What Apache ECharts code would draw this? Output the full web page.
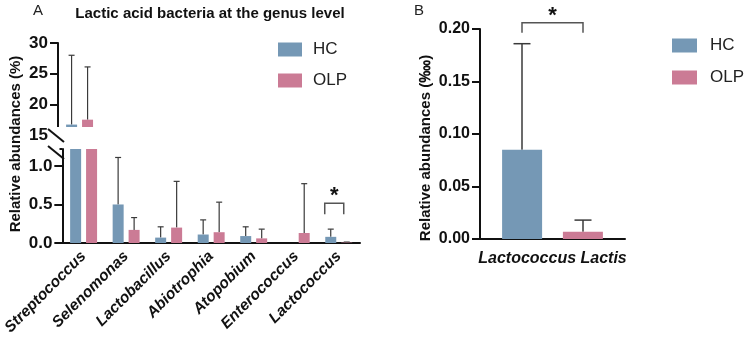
<!DOCTYPE html>
<html><head><meta charset="utf-8">
<script src="https://cdn.jsdelivr.net/npm/echarts@6/dist/echarts.min.js"></script>
<style>html,body{margin:0;padding:0;background:#fff}#c{width:744px;height:340px}</style>
</head><body><div id="c"></div>
<script>
// ---- Panel A data ----
const categories = ['Streptococcus','Selenomonas','Lactobacillus','Abiotrophia','Atopobium','Enterococcus','Lactococcus'];
const hcMean   = [16.7, 0.50, 0.07, 0.11, 0.09, 0, 0.08];
const hcUpper  = [28.0, 1.11, 0.21, 0.30, 0.21, 0, 0.18];
const olpMean  = [17.5, 0.17, 0.20, 0.14, 0.06, 0.13, 0.005];
const olpUpper = [26.1, 0.33, 0.80, 0.53, 0.18, 0.77, 0.012];
const upperTicks = [15, 20, 25, 30];
const lowerTicks = [0, 0.5, 1.0];
const sigA = [['Lactococcus', 0.515, '*']];
// ---- Panel B data ----
const bCategories = ['Lactococcus Lactis'];
const bHcMean   = [0.085];
const bHcUpper  = [0.186];
const bOlpMean  = [0.007];
const bOlpUpper = [0.018];
const bTicks = [0, 0.05, 0.10, 0.15, 0.20];
const sigB = [['Lactococcus Lactis', 0.206, '*']];

const HC = '#7598B5', OLP = '#CB7B95', AX = '#111', ERR = '#3a3a3a';
const FONT = 'Liberation Sans';

function errData(cats, mean, up){ return cats.map((c,i)=>[i, mean[i], up[i]]); }
function errRender(off, cap, lw){
  return function(params, api){
    const m = api.value(1), u = api.value(2);
    if (!(u > m)) return null;
    const p0 = api.coord([api.value(0), m]);
    const p1 = api.coord([api.value(0), u]);
    const x = p0[0] + off;
    return {type:'group', children:[
      {type:'line', shape:{x1:x,y1:p0[1],x2:x,y2:p1[1]}, style:{stroke:ERR,lineWidth:lw}},
      {type:'line', shape:{x1:x-cap/2,y1:p1[1],x2:x+cap/2,y2:p1[1]}, style:{stroke:ERR,lineWidth:lw}}
    ]};
  };
}
function sigRender(offL, offR, leg){
  return function(params, api){
    const p = api.coord([api.value(0), api.value(1)]);
    const xl = p[0]+offL, xr = p[0]+offR, y = p[1];
    return {type:'group', children:[
      {type:'polyline', shape:{points:[[xl,y+leg],[xl,y],[xr,y],[xr,y+leg]]}, style:{stroke:'#555',lineWidth:1.5,fill:null}},
      {type:'text', x:(xl+xr)/2, y:y+4, style:{text:api.value(2), font:'bold 22px "'+FONT+'"', fill:'#111', align:'center', verticalAlign:'bottom'}}
    ]};
  };
}
const sigAData = sigA.map(s=>[categories.indexOf(s[0]), s[1], s[2]]);
const sigBData = sigB.map(s=>[bCategories.indexOf(s[0]), s[1], s[2]]);

const yLabel = (dec, fs)=>({color:'#111', fontFamily:FONT, fontWeight:'bold', fontSize:fs, margin:10, formatter:v=>v.toFixed(dec)});
const mkY = (extra)=>Object.assign({type:'value', splitLine:{show:false},
  axisLine:{show:true, lineStyle:{color:AX, width:2}},
  axisTick:{show:true, inside:false, length:8, lineStyle:{color:AX, width:2}}}, extra);

const chart = echarts.init(document.getElementById('c'), null, {renderer:'canvas'});
const option = {
  animation:false,
  backgroundColor:'#fff',
  grid:[
    {left:58, top:43, width:302, height:92},
    {left:58, top:149, width:302, height:94},
    {left:480, top:29, width:145, height:210}
  ],
  xAxis:[
    {gridIndex:0, type:'category', data:categories, show:false},
    {gridIndex:1, type:'category', data:categories,
      axisLine:{lineStyle:{color:AX,width:2}}, axisTick:{alignWithLabel:true,length:6,lineStyle:{color:AX,width:2}},
      axisLabel:{rotate:45, interval:0, margin:11, color:'#111', fontFamily:FONT, fontWeight:'bold', fontStyle:'italic', fontSize:15.5}},
    {gridIndex:2, type:'category', data:bCategories,
      axisLine:{lineStyle:{color:AX,width:2}}, axisTick:{alignWithLabel:true,length:6,lineStyle:{color:AX,width:2}},
      axisLabel:{margin:12, color:'#111', fontFamily:FONT, fontWeight:'bold', fontStyle:'italic', fontSize:16}}
  ],
  yAxis:[
    mkY({gridIndex:0, min:upperTicks[0], max:upperTicks[upperTicks.length-1], interval:5, axisLabel:yLabel(0,17)}),
    mkY({gridIndex:1, min:0, max:1.22, interval:0.5, axisLabel:Object.assign(yLabel(1,17), {customValues:lowerTicks})}),
    mkY({gridIndex:2, min:bTicks[0], max:bTicks[bTicks.length-1], interval:0.05, axisLabel:yLabel(2,16)})
  ],
  legend:[
    {data:['HC','OLP'], orient:'vertical', left:278, top:41, padding:0, icon:'rect', itemWidth:24, itemHeight:14, itemGap:14,
      textStyle:{fontFamily:FONT, fontSize:17, color:'#222', padding:[0,0,0,6]}},
    {data:['HC','OLP'], orient:'vertical', left:672, top:37, padding:0, icon:'rect', itemWidth:25, itemHeight:14, itemGap:15,
      textStyle:{fontFamily:FONT, fontSize:17, color:'#222', padding:[0,0,0,8]}}
  ],
  series:[
    {name:'HC', type:'bar', xAxisIndex:0, yAxisIndex:0, data:hcMean.map(v=>v>=15?v:'-'), barWidth:11, barGap:'45%', itemStyle:{color:HC}, clip:true},
    {name:'OLP', type:'bar', xAxisIndex:0, yAxisIndex:0, data:olpMean.map(v=>v>=15?v:'-'), barWidth:11, barGap:'45%', itemStyle:{color:OLP}, clip:true},
    {name:'HC', type:'bar', xAxisIndex:1, yAxisIndex:1, data:hcMean, barWidth:11, barGap:'45%', itemStyle:{color:HC}, clip:true},
    {name:'OLP', type:'bar', xAxisIndex:1, yAxisIndex:1, data:olpMean, barWidth:11, barGap:'45%', itemStyle:{color:OLP}, clip:true},
    {type:'custom', xAxisIndex:0, yAxisIndex:0, data:errData(categories,hcMean,hcUpper), renderItem:errRender(-8,6,1.2), clip:true, z:1},
    {type:'custom', xAxisIndex:0, yAxisIndex:0, data:errData(categories,olpMean,olpUpper), renderItem:errRender(8,6,1.2), clip:true, z:1},
    {type:'custom', xAxisIndex:1, yAxisIndex:1, data:errData(categories,hcMean,hcUpper), renderItem:errRender(-8,6,1.2), clip:true, z:1},
    {type:'custom', xAxisIndex:1, yAxisIndex:1, data:errData(categories,olpMean,olpUpper), renderItem:errRender(8,6,1.2), clip:true, z:1},
    {type:'custom', xAxisIndex:1, yAxisIndex:1, data:sigAData, renderItem:sigRender(-14,5,11), clip:false, z:3},
    {name:'HC', type:'bar', xAxisIndex:2, yAxisIndex:2, data:bHcMean, barWidth:40, barGap:'52%', itemStyle:{color:HC}},
    {name:'OLP', type:'bar', xAxisIndex:2, yAxisIndex:2, data:bOlpMean, barWidth:40, barGap:'52%', itemStyle:{color:OLP}},
    {type:'custom', xAxisIndex:2, yAxisIndex:2, data:errData(bCategories,bHcMean,bHcUpper), renderItem:errRender(-30.5,17,1.5), clip:false, z:1},
    {type:'custom', xAxisIndex:2, yAxisIndex:2, data:errData(bCategories,bOlpMean,bOlpUpper), renderItem:errRender(30.5,17,1.5), clip:false, z:1},
    {type:'custom', xAxisIndex:2, yAxisIndex:2, data:sigBData, renderItem:sigRender(-30.5,30.5,10), clip:false, z:3}
  ],
  graphic:[
    {type:'rect', shape:{x:50,y:127,width:52,height:21}, style:{fill:'#fff'}, z:100},
    {type:'rect', shape:{x:50,y:127,width:9.5,height:24}, style:{fill:'#fff'}, z:100},
    {type:'line', shape:{x1:48,y1:129,x2:64,y2:142}, style:{stroke:'#111',lineWidth:2}, z:101},
    {type:'line', shape:{x1:48,y1:146,x2:64,y2:159}, style:{stroke:'#111',lineWidth:2}, z:101},
    {type:'text', left:33, top:3, style:{text:'A', font:'15px "'+FONT+'"', fill:'#222'}, z:101},
    {type:'text', left:414, top:3, style:{text:'B', font:'15px "'+FONT+'"', fill:'#222'}, z:101},
    {type:'text', x:210, y:14, style:{text:'Lactic acid bacteria at the genus level', font:'bold 15px "'+FONT+'"', fill:'#111', align:'center', verticalAlign:'middle'}, z:101},
    {type:'text', x:16, y:144, rotation:Math.PI/2, style:{text:'Relative abundances (%)', font:'bold 15px "'+FONT+'"', fill:'#111', align:'center', verticalAlign:'middle'}, z:101},
    {type:'text', x:426, y:148, rotation:Math.PI/2, style:{text:'Relative abundances (‱)', font:'bold 15px "'+FONT+'"', fill:'#111', align:'center', verticalAlign:'middle'}, z:101}
  ]
};
chart.setOption(option);
</script></body></html>
